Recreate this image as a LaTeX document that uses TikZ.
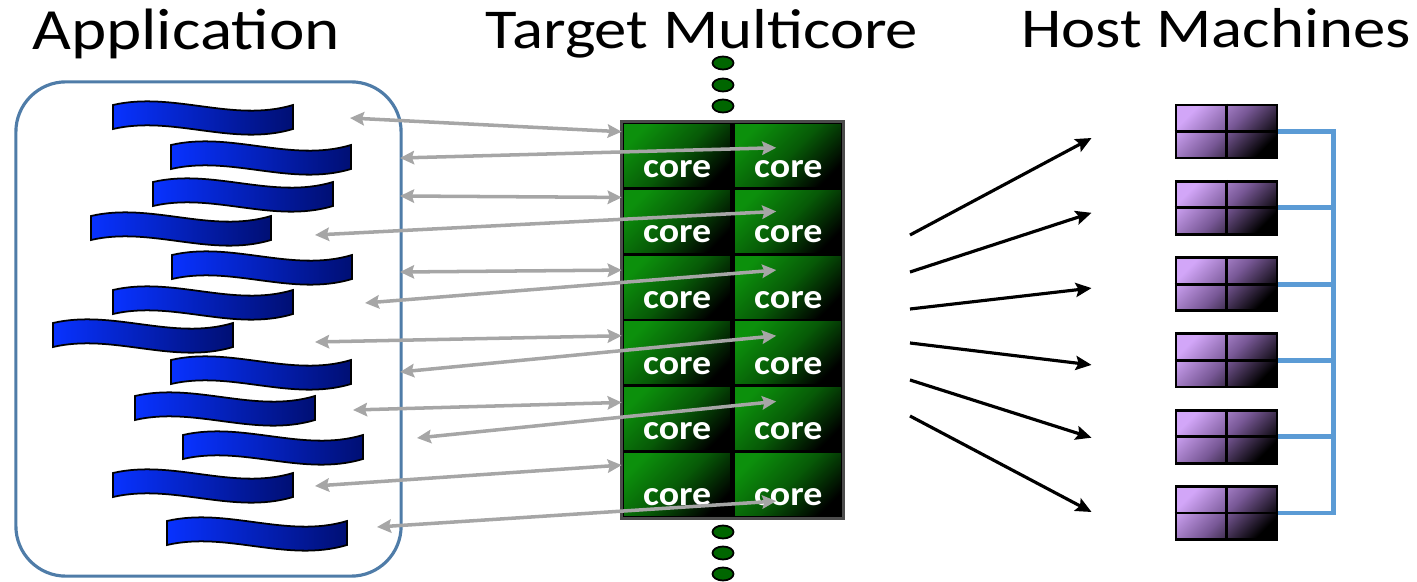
\documentclass[tikz,border=0pt]{standalone}
\usepackage{fontspec}
\setmainfont{Carlito}[FakeStretch=1.15]
\newfontfamily\corefont{Carlito}[FakeStretch=1.1]
\usepackage{tikz}
\usetikzlibrary{positioning, arrows.meta, calc, shapes.geometric}
\definecolor{boxline}{HTML}{4F7CA8}
\definecolor{wavelight}{HTML}{0832FF}
\definecolor{wavemid}{HTML}{0622C4}
\definecolor{wavedark}{HTML}{000F74}
\definecolor{coregreen}{HTML}{0C900C}
\definecolor{coremid}{HTML}{075A07}
\definecolor{hostpurple}{HTML}{D2A6F8}
\definecolor{hostmid}{HTML}{785896}
\definecolor{linkgray}{HTML}{A6A6A6}
\definecolor{busblue}{HTML}{5B9BD5}
\tikzset{
  title/.style={
    anchor=base,
    font=\fontsize{16}{19}\selectfont
  },
  app box/.style={
    draw=boxline, line width=0.9pt,
    rounded corners=0.5cm,
    minimum width=3.85cm, minimum height=4.94cm
  },
  wave fill/.style={
    draw=black, line width=0.5pt,
    left color=wavelight, middle color=wavemid, right color=wavedark
  },
  wave/.pic={
    \path[wave fill] (0,4) .. controls (60,-10) and (120,22) .. (180,4)
      -- (180,28) .. controls (120,46) and (60,14) .. (0,28) -- cycle;
  },
  core cell/.style={
    draw=black, line width=0.7pt,
    top color=coregreen, bottom color=black, middle color=coremid, shading angle=45,
    minimum width=1.085cm, minimum height=0.6567cm,
    inner sep=0pt, text height=12.2pt, text depth=0pt,
    text=white, font=\corefont\bfseries\fontsize{9.8}{11}\selectfont
  },
  dot/.style={
    ellipse, draw=black, line width=0.5pt, fill=green!40!black,
    minimum width=0.21cm, minimum height=0.13cm, inner sep=0pt
  },
  host/.style={
    draw=black, line width=0.8pt,
    top color=hostpurple, bottom color=black, middle color=hostmid, shading angle=45,
    minimum width=1.01cm, minimum height=0.53cm, inner sep=0pt
  },
  host grid/.style={black, line width=0.8pt},
  data link/.style={
    {Stealth[length=4pt, width=3.8pt, inset=0.6pt]}-{Stealth[length=4pt, width=3.8pt, inset=0.6pt]},
    draw=linkgray, line width=1pt
  },
  fan arrow/.style={
    -{Stealth[length=4.5pt, width=4pt, inset=0.8pt]},
    black, line width=0.9pt
  },
  bus/.style={draw=busblue, line width=1.4pt}
}

\begin{document}
\begin{tikzpicture}[x=0.01cm, y=-0.01cm]
  \useasboundingbox (0,0) rectangle (1417,582);

  % titles
  \node[title, font=\fontsize{16.6}{20}\selectfont] (appTitle) at (186,50) {Application};
  \node[title] (coreTitle) at (702,49) {Target Multicore};
  \node[title] (hostTitle) at (1216,48) {Host Machines};

  % application threads
  \node[app box] (app) at (208.5,329) {};
  \foreach \x/\y in {113/101, 171/141, 153/178, 91/212, 172/251, 113/286,
                     53/319, 171/356, 135/392, 183/431, 113/469, 167/517}
    \pic at (\x,\y) {wave};

  % target multicore
  \foreach \r in {1,...,6}{
    \node[core cell] (cL\r) at (677.25,{123+65.67*(\r-0.5)}) {core};
    \node[core cell, right=0pt of cL\r] (cR\r) {core};
  }
  \draw[black!70, line width=0.8pt] (cL1.north west) rectangle (cR6.south east);
  \foreach \i/\y in {1/63, 2/85, 3/106, 4/532, 5/553, 6/574}
    \node[dot] (dot\i) at (723,\y) {};

  % links between threads and cores
  \foreach \i/\x/\y/\cell/\dx/\dy in {1/350/118/cL1/0/10, 2/400/158/cR1/43.5/26,
      3/400/196/cL2/0/10, 4/315/235/cR2/43.5/24, 5/400/272/cL3/0/17,
      6/365/303/cR3/43.5/17, 7/315/342/cL4/0/17, 8/400/372/cR4/43.5/17,
      9/353/410/cL5/0/18, 10/417/438/cR5/43.5/17, 11/315/486/cL6/0/15,
      12/377/527/cR6/43.5/51}{
    \coordinate (thr\i) at (\x,\y);
    \draw[data link] (thr\i) -- ($(\cell.north west)+(\dx,\dy)$);
  }

  % host machines
  \foreach \i in {1,...,6}{
    \node[host] (host\i) at (1226.5,{131.5+76.3*(\i-1)}) {};
    \draw[host grid] (host\i.north) -- (host\i.south) (host\i.west) -- (host\i.east);
  }
  \coordinate (busTop) at ($(host1.east)+(55,0)$);
  \draw[bus] (host1.east) -- (busTop) -- (busTop |- host6.east) -- (host6.east);
  \foreach \i in {2,...,5}
    \draw[bus] (host\i.east) -- (busTop |- host\i.east);

  % mapping onto hosts
  \foreach \i/\y/\dy in {1/235/6.5, 2/272/5, 3/309/4, 4/343/4.5, 5/380/1, 6/416/-1}{
    \coordinate (fan\i) at (910,\y);
    \draw[fan arrow] (fan\i) -- ($(host\i.west)+(-83,\dy)$);
  }
\end{tikzpicture}
\end{document}
